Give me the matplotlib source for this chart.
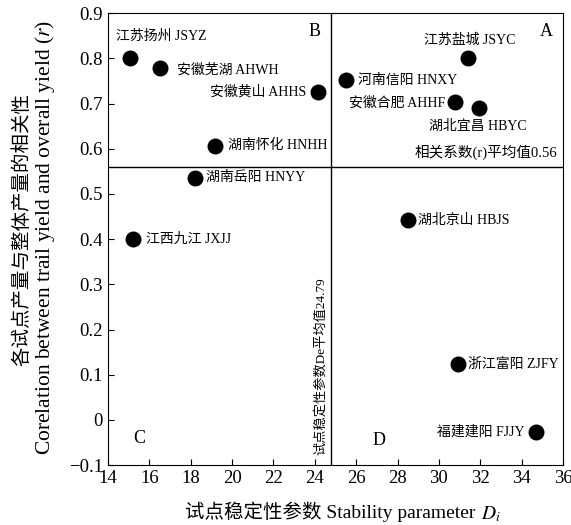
import numpy as np
import matplotlib.pyplot as plt

plt.rcParams['font.family'] = ['Liberation Serif', 'Noto Sans CJK SC']
plt.rcParams['mathtext.fontset'] = 'stix'

# site data: stability parameter Di and correlation r
names = ['江苏扬州 JSYZ', '安徽芜湖 AHWH', '安徽黄山 AHHS', '湖南怀化 HNHH', '湖南岳阳 HNYY',
         '江西九江 JXJJ', '河南信阳 HNXY', '江苏盐城 JSYC', '安徽合肥 AHHF', '湖北宜昌 HBYC',
         '湖北京山 HBJS', '浙江富阳 ZJFY', '福建建阳 FJJY']
di = [15.07, 16.52, 24.17, 19.18, 18.2, 15.2, 25.5, 31.39, 30.76, 31.93, 28.49, 30.9, 34.7]
r = [0.80, 0.778, 0.726, 0.607, 0.535, 0.40, 0.752, 0.80, 0.703, 0.690, 0.442, 0.123, -0.027]
# label offsets in pixels and alignment
offsets = [(-14, 22, 'left'), (17, -2, 'left'), (-12, 0, 'right'), (13, 0, 'left'),
           (11, 1, 'left'), (13, 0, 'left'), (12, 0, 'left'), (2, 18, 'center'),
           (-9, -1, 'right'), (-1, -18, 'center'), (10, 0, 'left'), (10, 0, 'left'),
           (-12, 0, 'right')]

mean_di = 24.79
mean_r = 0.56

fig = plt.figure(figsize=(5.71, 5.25), dpi=100)
ax = fig.add_axes([0.189, 0.114, 0.797, 0.861])

ax.scatter(di, r, s=110, color='black', zorder=3)
for n, x, y, (dx, dy, ha) in zip(names, di, r, offsets):
    ax.annotate(n, (x, y), xytext=(dx, dy), textcoords='offset pixels',
                ha=ha, va='center', fontsize=10)

ax.axvline(mean_di, color='black', lw=1)
ax.axhline(mean_r, color='black', lw=1)

ax.text(mean_di - 0.2, -0.078, '试点稳定性参数De平均值24.79', rotation=90,
        ha='right', va='bottom', fontsize=9.5)
ax.text(35.7, 0.575, '相关系数(r)平均值0.56', ha='right', va='bottom', fontsize=10.5)

for lab, x, y in [('B', 24.0, 0.86), ('A', 35.2, 0.86), ('C', 15.5, -0.042), ('D', 27.1, -0.045)]:
    ax.text(x, y, lab, ha='center', va='center', fontsize=13)

ax.set_xlim(14, 36)
ax.set_ylim(-0.1, 0.9)
ax.set_xticks(np.arange(14, 37, 2))
ax.set_yticks(np.arange(-0.1, 0.91, 0.1))
ax.set_yticklabels(['−0.1', '0', '0.1', '0.2', '0.3', '0.4', '0.5', '0.6', '0.7', '0.8', '0.9'])
ax.tick_params(direction='in', labelsize=13.5, length=4)

# axis titles drawn as separate pieces so CJK and math both render
fig.text(480 / 571, 1 - 512 / 525, '试点稳定性参数 Stability parameter ', ha='right', va='center',
         fontsize=14)
fig.text(481 / 571, 1 - 514 / 525, '$D_i$', ha='left', va='center', fontsize=14)
fig.text(22 / 571, 1 - 230 / 525, '各试点产量与整体产量的相关性', rotation=90, ha='center',
         va='center', fontsize=14)
fig.text(45 / 571, 1 - 237 / 525, 'Corelation between trail yield and overall yield ($r$)',
         rotation=90, ha='center', va='center', fontsize=15.5)

fig.savefig('out.png', dpi=100)
